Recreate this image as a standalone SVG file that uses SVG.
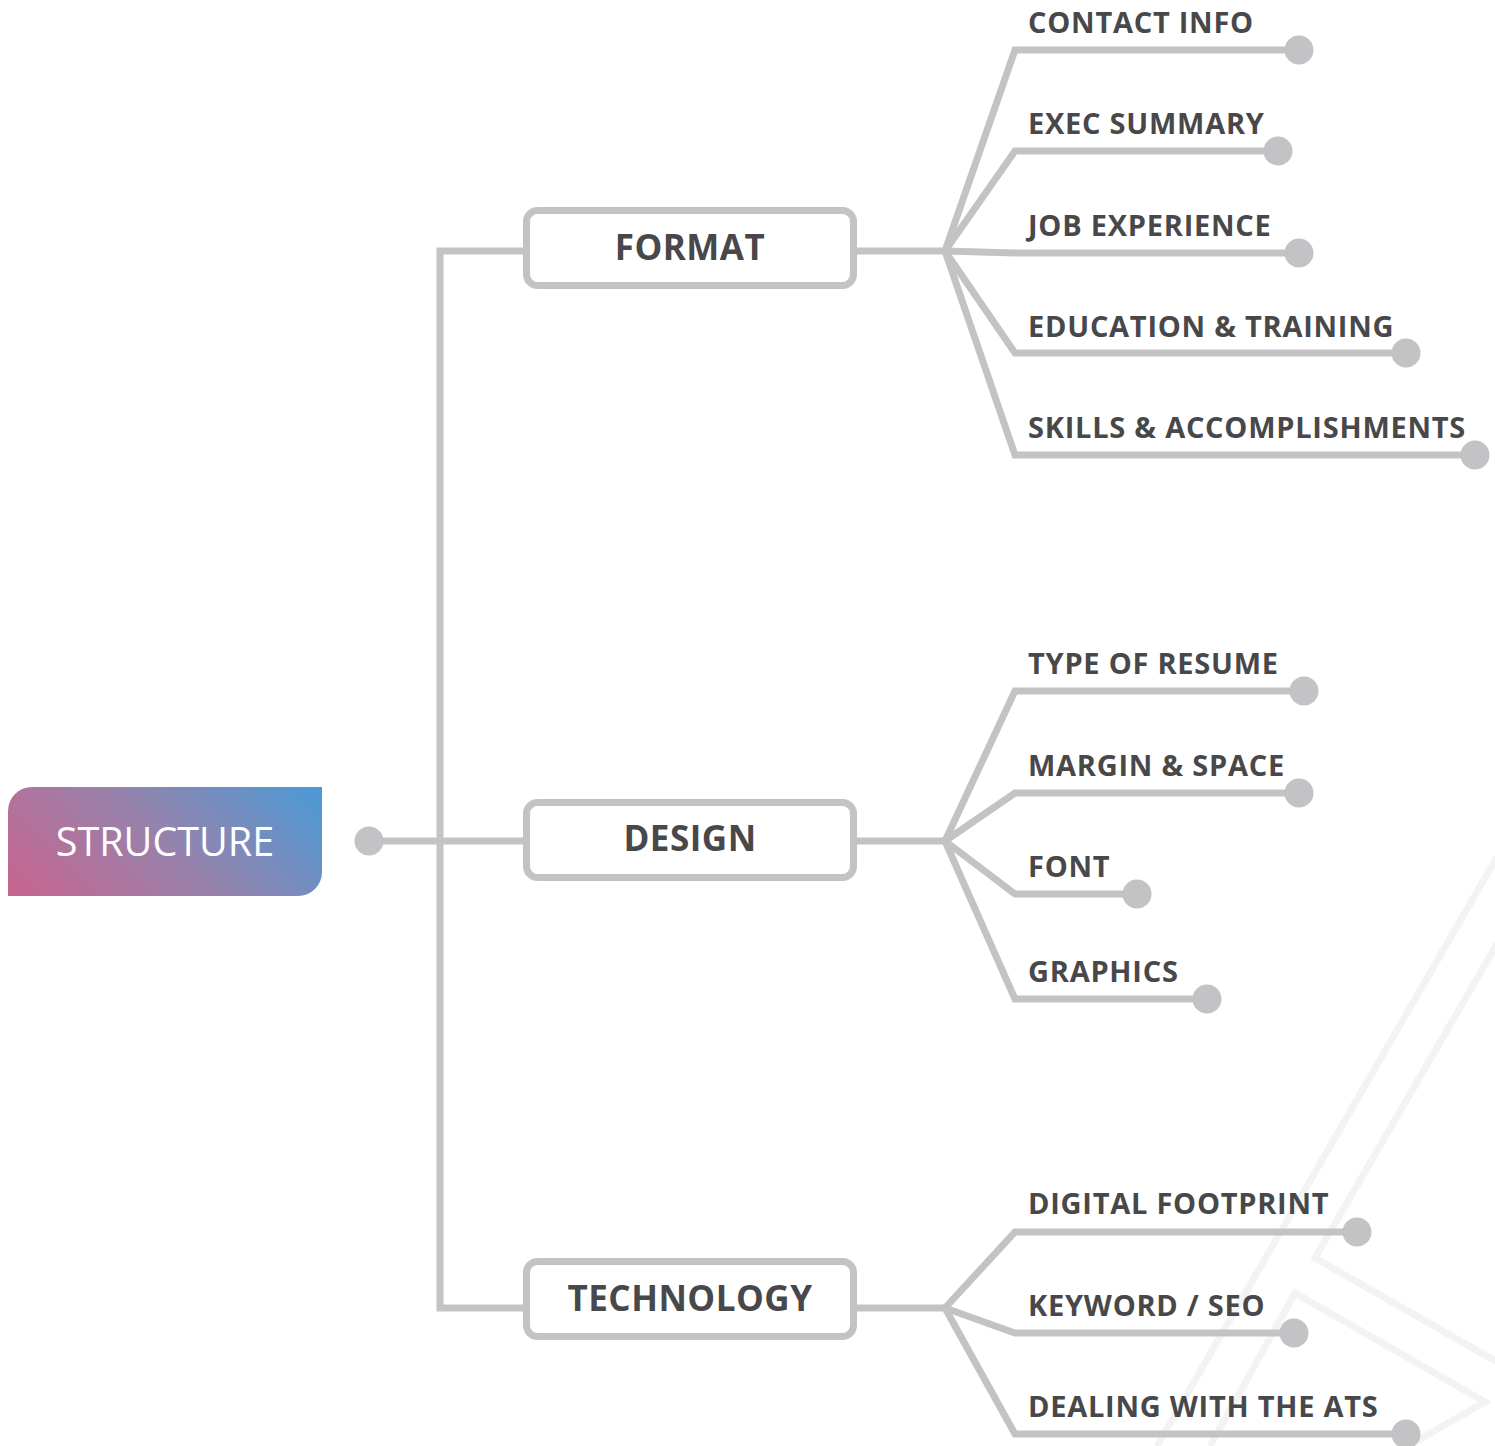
<svg xmlns="http://www.w3.org/2000/svg" width="1495" height="1446" viewBox="0 0 1495 1446">
<defs>
<linearGradient id="grad" gradientUnits="userSpaceOnUse" x1="8" y1="896" x2="219.5" y2="684.5">
<stop offset="0" stop-color="#c9648e"/>
<stop offset="0.5" stop-color="#9782ab"/>
<stop offset="1" stop-color="#4a9ad6"/>
</linearGradient>
<style>
.bg{fill:none;stroke:#f3f3f5;stroke-width:7}
.ln{fill:none;stroke:#c3c2c5;stroke-width:7;stroke-linejoin:miter}
.dot{fill:#c3c2c5}
.box{fill:#fff;stroke:#c3c2c5;stroke-width:7}
.bt{font-family:"Open Sans","Liberation Sans",sans-serif;font-weight:700;font-size:35px;fill:#48484a;text-anchor:middle;letter-spacing:0.5px}
.lb{font-family:"Open Sans","Liberation Sans",sans-serif;font-weight:700;font-size:29px;fill:#48484a;letter-spacing:0.75px}
</style>
</defs>
<rect width="1495" height="1446" fill="#fff"/>
<g id="background">
<polyline class="bg" points="1497,857 1157,1446"/>
<polyline class="bg" points="1497,944 1315,1258 1497,1362"/>
<polyline class="bg" points="1210,1446 1295,1293 1485,1402 1408,1446"/>
</g>
<g id="connectors">
<circle class="dot" cx="369" cy="841" r="14.5"/>
<polyline class="ln" points="369,841 527,841"/>
<polyline class="ln" points="527,251 440,251 440,1308 527,1308"/>
<polyline class="ln" points="854,251 945,251"/>
<polyline class="ln" points="854,841 945,841"/>
<polyline class="ln" points="854,1308 945,1308"/>
<polyline class="ln" points="945,251 1015,50 1299,50"/>
<polyline class="ln" points="945,251 1015,151 1278,151"/>
<polyline class="ln" points="945,251 1015,253 1299,253"/>
<polyline class="ln" points="945,251 1015,353 1406,353"/>
<polyline class="ln" points="945,251 1015,455 1475,455"/>
<polyline class="ln" points="945,841 1015,691 1304,691"/>
<polyline class="ln" points="945,841 1015,793 1299,793"/>
<polyline class="ln" points="945,841 1015,894 1137,894"/>
<polyline class="ln" points="945,841 1015,999 1207,999"/>
<polyline class="ln" points="945,1308 1015,1232 1357,1232"/>
<polyline class="ln" points="945,1308 1015,1333 1294,1333"/>
<polyline class="ln" points="945,1308 1015,1434 1406,1434"/>
<circle class="dot" cx="1299" cy="50" r="14.5"/>
<circle class="dot" cx="1278" cy="151" r="14.5"/>
<circle class="dot" cx="1299" cy="253" r="14.5"/>
<circle class="dot" cx="1406" cy="353" r="14.5"/>
<circle class="dot" cx="1475" cy="455" r="14.5"/>
<circle class="dot" cx="1304" cy="691" r="14.5"/>
<circle class="dot" cx="1299" cy="793" r="14.5"/>
<circle class="dot" cx="1137" cy="894" r="14.5"/>
<circle class="dot" cx="1207" cy="999" r="14.5"/>
<circle class="dot" cx="1357" cy="1232" r="14.5"/>
<circle class="dot" cx="1294" cy="1333" r="14.5"/>
<circle class="dot" cx="1406" cy="1434" r="14.5"/>
</g>
<g id="structure">
<path d="M32,787 H322 V872 A24,24 0 0 1 298,896 H8 V811 A24,24 0 0 1 32,787 Z" fill="url(#grad)"/>
<text x="165" y="856" font-family="'Open Sans','Liberation Sans',sans-serif" font-size="39.5" fill="#fff" text-anchor="middle">STRUCTURE</text>
</g>
<g id="format">
<rect class="box" x="526.5" y="210.5" width="327" height="75" rx="11"/>
<text class="bt" x="690" y="260">FORMAT</text>
</g>
<g id="design">
<rect class="box" x="526.5" y="802.5" width="327" height="75" rx="11"/>
<text class="bt" x="690" y="851">DESIGN</text>
</g>
<g id="technology">
<rect class="box" x="526.5" y="1261.5" width="327" height="75" rx="11"/>
<text class="bt" x="690" y="1311">TECHNOLOGY</text>
</g>
<g id="contact-info"><text class="lb" x="1028" y="33">CONTACT INFO</text></g>
<g id="exec-summary"><text class="lb" x="1028" y="134">EXEC SUMMARY</text></g>
<g id="job-experience"><text class="lb" x="1028" y="236">JOB EXPERIENCE</text></g>
<g id="education-training"><text class="lb" x="1028" y="337">EDUCATION &amp; TRAINING</text></g>
<g id="skills-accomplishments"><text class="lb" x="1028" y="438">SKILLS &amp; ACCOMPLISHMENTS</text></g>
<g id="type-of-resume"><text class="lb" x="1028" y="674">TYPE OF RESUME</text></g>
<g id="margin-space"><text class="lb" x="1028" y="776">MARGIN &amp; SPACE</text></g>
<g id="font"><text class="lb" x="1028" y="877">FONT</text></g>
<g id="graphics"><text class="lb" x="1028" y="982">GRAPHICS</text></g>
<g id="digital-footprint"><text class="lb" x="1028" y="1214">DIGITAL FOOTPRINT</text></g>
<g id="keyword-seo"><text class="lb" x="1028" y="1316">KEYWORD / SEO</text></g>
<g id="dealing-ats"><text class="lb" x="1028" y="1417">DEALING WITH THE ATS</text></g>
</svg>
